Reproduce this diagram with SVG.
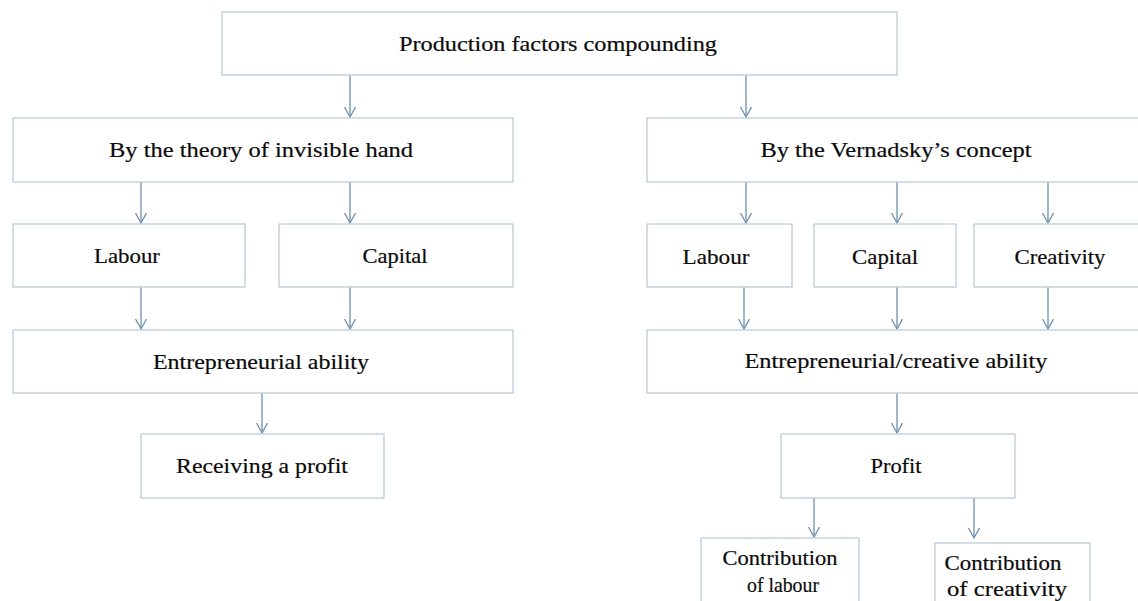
<svg xmlns="http://www.w3.org/2000/svg" width="1138" height="601" viewBox="0 0 1138 601">
<defs>
<style>
.box{fill:#ffffff;stroke:#bccbd9;stroke-width:1.3}
.lbl{font-family:"Liberation Serif","Times New Roman",serif;font-size:21px;fill:#0a0a0a;stroke:#0a0a0a;stroke-width:0.2;text-anchor:middle}
.con{stroke:#7190ad;stroke-width:1.3;fill:none;marker-end:url(#arr)}
</style>
<marker id="arr" markerUnits="userSpaceOnUse" markerWidth="12" markerHeight="14" refX="10" refY="6" orient="auto" viewBox="0 0 12 14">
<path d="M0,0.5 L10,6 L0,11.5" fill="none" stroke="#7190ad" stroke-width="1.3"/>
</marker>
</defs>
<rect x="0" y="0" width="1138" height="601" fill="#ffffff"/>
<g id="connectors">
<line class="con" x1="350" y1="75" x2="350" y2="117"/>
<line class="con" x1="746" y1="75" x2="746" y2="117"/>
<line class="con" x1="141" y1="182" x2="141" y2="223"/>
<line class="con" x1="350" y1="182" x2="350" y2="223"/>
<line class="con" x1="746" y1="182" x2="746" y2="223"/>
<line class="con" x1="897" y1="182" x2="897" y2="223"/>
<line class="con" x1="1048" y1="182" x2="1048" y2="223"/>
<line class="con" x1="141" y1="287" x2="141" y2="329"/>
<line class="con" x1="350" y1="287" x2="350" y2="329"/>
<line class="con" x1="744" y1="287" x2="744" y2="329"/>
<line class="con" x1="897" y1="287" x2="897" y2="329"/>
<line class="con" x1="1048" y1="287" x2="1048" y2="329"/>
<line class="con" x1="262" y1="393" x2="262" y2="433"/>
<line class="con" x1="897" y1="393" x2="897" y2="433"/>
<line class="con" x1="814" y1="498" x2="814" y2="537"/>
<line class="con" x1="974" y1="498" x2="974" y2="538"/>
</g>
<g id="n0"><rect class="box" x="222" y="12" width="675" height="63"/><text class="lbl" x="558" y="51" textLength="318" lengthAdjust="spacingAndGlyphs">Production factors compounding</text></g>
<g id="n1"><rect class="box" x="13" y="118" width="500" height="64"/><text class="lbl" x="261" y="157" textLength="304" lengthAdjust="spacingAndGlyphs">By the theory of invisible hand</text></g>
<g id="n2"><rect class="box" x="647" y="118" width="500" height="64"/><text class="lbl" x="896" y="157" textLength="271" lengthAdjust="spacingAndGlyphs">By the Vernadsky’s concept</text></g>
<g id="n3"><rect class="box" x="13" y="224" width="232" height="63"/><text class="lbl" x="127" y="263" textLength="66" lengthAdjust="spacingAndGlyphs">Labour</text></g>
<g id="n4"><rect class="box" x="279" y="224" width="234" height="63"/><text class="lbl" x="395" y="263" textLength="65" lengthAdjust="spacingAndGlyphs">Capital</text></g>
<g id="n5"><rect class="box" x="647" y="224" width="145" height="63"/><text class="lbl" x="716" y="264" textLength="67" lengthAdjust="spacingAndGlyphs">Labour</text></g>
<g id="n6"><rect class="box" x="814" y="224" width="142" height="63"/><text class="lbl" x="885" y="264" textLength="66" lengthAdjust="spacingAndGlyphs">Capital</text></g>
<g id="n7"><rect class="box" x="974" y="224" width="200" height="63"/><text class="lbl" x="1060" y="264" textLength="91" lengthAdjust="spacingAndGlyphs">Creativity</text></g>
<g id="n8"><rect class="box" x="13" y="330" width="500" height="63"/><text class="lbl" x="261" y="369" textLength="216" lengthAdjust="spacingAndGlyphs">Entrepreneurial ability</text></g>
<g id="n9"><rect class="box" x="647" y="330" width="500" height="63"/><text class="lbl" x="896" y="368" textLength="303" lengthAdjust="spacingAndGlyphs">Entrepreneurial/creative ability</text></g>
<g id="n10"><rect class="box" x="141" y="434" width="243" height="64"/><text class="lbl" x="262" y="473" textLength="172" lengthAdjust="spacingAndGlyphs">Receiving a profit</text></g>
<g id="n11"><rect class="box" x="781" y="434" width="234" height="64"/><text class="lbl" x="896" y="473" textLength="51" lengthAdjust="spacingAndGlyphs">Profit</text></g>
<g id="n12"><rect class="box" x="701" y="538" width="158" height="70"/><text class="lbl" x="780" y="565" textLength="115" lengthAdjust="spacingAndGlyphs">Contribution</text><text class="lbl" x="783" y="592" textLength="72" lengthAdjust="spacingAndGlyphs">of labour</text></g>
<g id="n13"><rect class="box" x="935" y="543" width="155" height="70"/><text class="lbl" x="1003" y="570" textLength="117" lengthAdjust="spacingAndGlyphs">Contribution</text><text class="lbl" x="1007" y="596" textLength="120" lengthAdjust="spacingAndGlyphs">of creativity</text></g>
</svg>
